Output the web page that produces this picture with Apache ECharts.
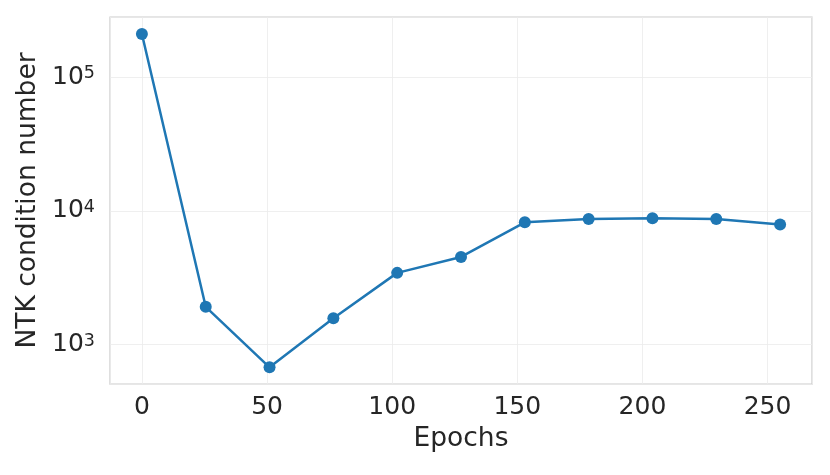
<!DOCTYPE html>
<html>
<head>
<meta charset="utf-8">
<script src="https://cdn.jsdelivr.net/npm/echarts@6/dist/echarts.min.js"></script>
<style>
html,body{margin:0;padding:0;background:#fff;}
#chart{width:830px;height:475px;}
</style>
</head>
<body>
<div id="chart"></div>
<script>
const epochs = [0, 25.5, 51, 76.5, 102, 127.5, 153, 178.5, 204, 229.5, 255];
const condNumber = [210000, 1914, 676, 1573, 3434, 4519, 8200, 8694, 8790, 8694, 7885];
const xTickLabels = ['0', '50', '100', '150', '200', '250'];
const yTickExponents = [3, 4, 5];
const xAxisName = 'Epochs';
const yAxisName = 'NTK condition number';

const FONT = 'DejaVu Sans';
const TXT = '#262626';

const chart = echarts.init(document.getElementById('chart'), null, {renderer: 'canvas'});
chart.setOption({
  animation: false,
  backgroundColor: '#ffffff',
  grid: {
    left: 110, right: 18, top: 17, bottom: 91,
    show: true, borderColor: '#cccccc', borderWidth: 1.25,
    outerBoundsMode: 'none'
  },
  xAxis: {
    type: 'value',
    min: -12.75, max: 267.75,
    splitNumber: 5,
    name: xAxisName,
    nameLocation: 'middle',
    nameGap: 42,
    nameTextStyle: {fontFamily: FONT, fontSize: 26.5, color: TXT},
    axisLine: {show: false},
    axisTick: {show: false},
    axisLabel: {
      fontFamily: FONT, fontSize: 25, color: TXT, margin: 11,
      formatter: function (v) {
        const s = String(Math.round(v));
        return (Math.abs(v - Math.round(v)) < 1e-6 && xTickLabels.indexOf(s) >= 0) ? s : '';
      }
    },
    splitLine: {show: true, lineStyle: {color: '#ebebeb', width: 0.8}}
  },
  yAxis: {
    type: 'log',
    logBase: 10,
    min: 507, max: 281000,
    name: yAxisName,
    nameLocation: 'middle',
    nameGap: 60,
    nameTextStyle: {fontFamily: FONT, fontSize: 26.5, color: TXT},
    axisLine: {show: false},
    axisTick: {show: false},
    axisLabel: {
      margin: 15,
      formatter: function (v) {
        const e = Math.log10(v);
        const r = Math.round(e);
        if (Math.abs(e - r) > 1e-6 || yTickExponents.indexOf(r) < 0) return '';
        return '{b|10}{s|' + r + '}';
      },
      rich: {
        b: {fontFamily: FONT, fontSize: 25, color: TXT, lineHeight: 25},
        s: {fontFamily: FONT, fontSize: 17.5, color: TXT, lineHeight: 17, verticalAlign: 'top', padding: [0, 0, 10, 0]}
      }
    },
    splitLine: {show: true, lineStyle: {color: '#ebebeb', width: 0.8}}
  },
  series: [{
    type: 'line',
    data: epochs.map((x, i) => [x, condNumber[i]]),
    symbol: 'circle',
    symbolSize: 12,
    lineStyle: {color: '#1f77b4', width: 2.5},
    itemStyle: {color: '#1f77b4'},
    z: 3
  }]
});
</script>
</body>
</html>
